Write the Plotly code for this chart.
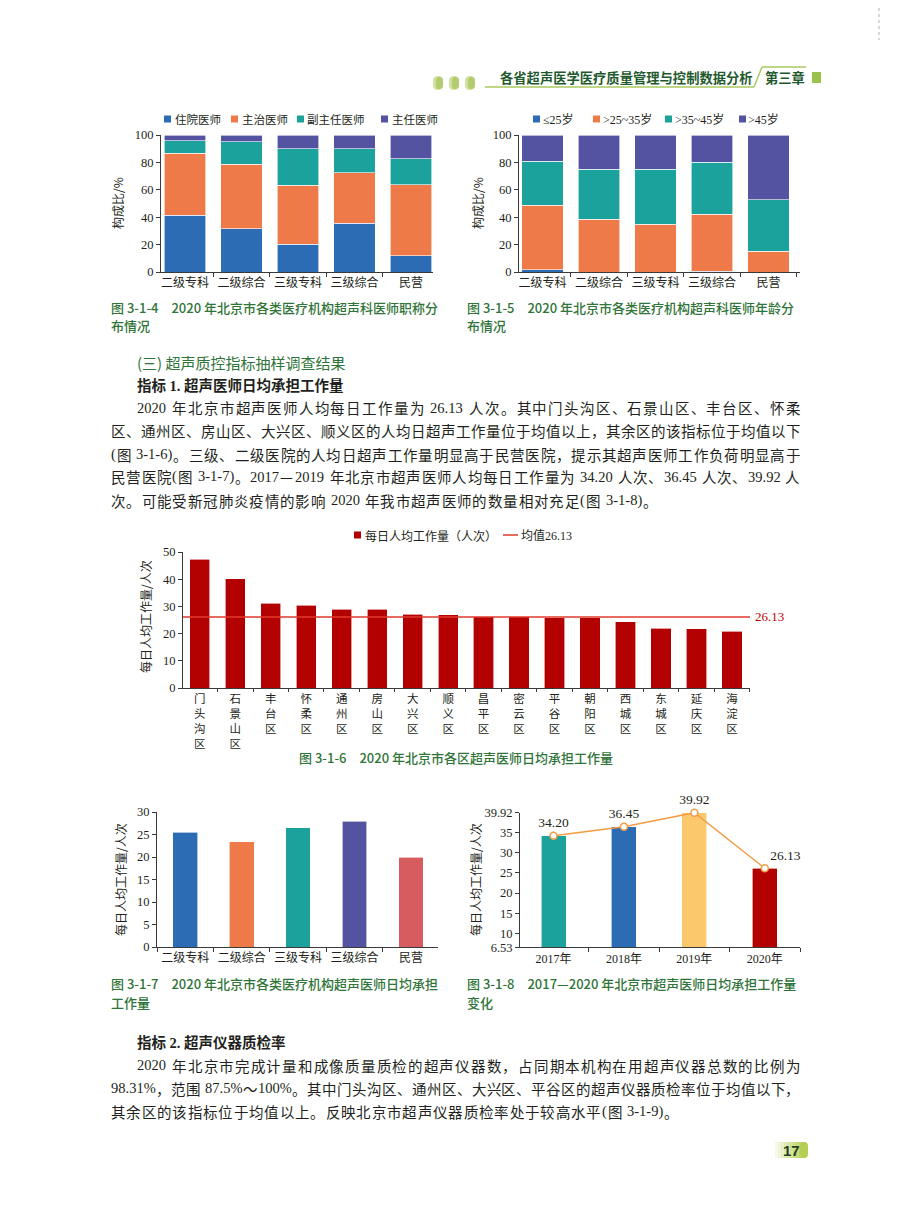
import plotly.graph_objects as go

# The page is drawn 8px in from the top-left corner by the browser's default body margin,
# so the figure is made 8px smaller and every page coordinate is shifted by 8px.
OFF = 8
W, H = 900 - OFF, 1213 - OFF
def X(p): return (p - OFF) / W
def Y(p): return 1 - (p - OFF) / H

SERIF = "Liberation Serif, Noto Sans CJK SC, serif"
CJK = "Noto Sans CJK SC"
AX = "#3a3a3a"
INK = "#231f20"
GREEN = "#2f7438"
HEADGREEN = "#1f5a2e"
LIME = "#a9c95c"
BLUE = "#2b6cb4"
ORANGE = "#ee7a4a"
TEAL = "#1ba29c"
PURPLE = "#5353a2"
PINK = "#d65c60"
YELLOW = "#fbc96c"
DARKRED = "#b30000"
MEANRED = "#e03a2e"

# ---------------- data ----------------
inst_categories = ["二级专科", "二级综合", "三级专科", "三级综合", "民营"]

title_levels = ["住院医师", "主治医师", "副主任医师", "主任医师"]
title_resident = [41.5, 31.7, 20.2, 35.6, 12.0]
title_attending = [45.1, 46.8, 43.0, 36.8, 51.7]
title_associate = [9.3, 16.6, 26.6, 17.4, 19.0]
title_chief = [4.1, 4.9, 10.2, 10.2, 17.3]

age_groups = ["≤25岁", ">25~35岁", ">35~45岁", ">45岁"]
age_le25 = [1.7, 0.0, 0.0, 0.5, 0.0]
age_25_35 = [47.1, 38.5, 34.9, 41.7, 15.1]
age_35_45 = [32.2, 36.6, 40.2, 37.8, 37.8]
age_gt45 = [19.0, 24.9, 24.9, 20.0, 47.1]

districts = ["门头沟区", "石景山区", "丰台区", "怀柔区", "通州区", "房山区", "大兴区", "顺义区",
             "昌平区", "密云区", "平谷区", "朝阳区", "西城区", "东城区", "延庆区", "海淀区"]
district_workload = [47.4, 40.1, 31.1, 30.4, 29.0, 29.0, 27.1, 26.9,
                     26.2, 26.2, 25.9, 25.9, 24.3, 22.0, 21.8, 20.8]
district_mean = 26.13

inst_workload = [25.5, 23.4, 26.5, 27.9, 20.0]

years = ["2017年", "2018年", "2019年", "2020年"]
year_workload = [34.20, 36.45, 39.92, 26.13]
year_ticks = [6.53, 10, 15, 20, 25, 30, 35, 39.92]

# ---------------- figure ----------------
fig = go.Figure()

bar_line = dict(color="rgba(255,255,255,0.75)", width=0.8)

for name, vals, col in zip(title_levels,
                           [title_resident, title_attending, title_associate, title_chief],
                           [BLUE, ORANGE, TEAL, PURPLE]):
    fig.add_trace(go.Bar(x=inst_categories, y=vals, name=name, width=0.74,
                         marker=dict(color=col, line=bar_line), xaxis="x", yaxis="y"))

for name, vals, col in zip(age_groups, [age_le25, age_25_35, age_35_45, age_gt45],
                           [BLUE, ORANGE, TEAL, PURPLE]):
    fig.add_trace(go.Bar(x=inst_categories, y=vals, name=name, width=0.73,
                         marker=dict(color=col, line=bar_line), xaxis="x2", yaxis="y2"))

fig.add_trace(go.Bar(x=["<br>".join(d) for d in districts], y=district_workload,
                     name="每日人均工作量（人次）", width=0.57,
                     marker=dict(color=DARKRED, line=bar_line), xaxis="x3", yaxis="y3"))

fig.add_trace(go.Bar(x=inst_categories, y=inst_workload, width=0.44,
                     marker=dict(color=[BLUE, ORANGE, TEAL, PURPLE, PINK], line=bar_line),
                     xaxis="x4", yaxis="y4"))

fig.add_trace(go.Bar(x=years, y=year_workload, width=0.355,
                     marker=dict(color=[TEAL, BLUE, YELLOW, DARKRED], line=bar_line),
                     xaxis="x5", yaxis="y5"))
fig.add_trace(go.Scatter(x=years, y=year_workload, mode="lines+markers+text",
                         text=[f"{v:.2f}" for v in year_workload],
                         textposition=["top center", "top center", "top center", "top right"],
                         textfont=dict(family=SERIF, size=13.5, color=INK),
                         line=dict(color="#f39c45", width=1.5),
                         marker=dict(size=7, color="white", line=dict(color="#f39c45", width=1.5)),
                         cliponaxis=False, xaxis="x5", yaxis="y5"))


def xcfg(x0, x1, rng, anchor, size=12, ticklen=4):
    return dict(domain=[X(x0), X(x1)], range=rng, type="category", anchor=anchor,
                showline=True, linecolor=AX, linewidth=1, ticks="outside", tickson="boundaries",
                ticklen=ticklen, tickcolor=AX, tickwidth=1, showgrid=False, zeroline=False,
                tickangle=0, automargin=False,
                tickfont=dict(family=SERIF, size=size, color=INK), fixedrange=True)


def ycfg(ytop, ybot, rng, anchor, **kw):
    d = dict(domain=[Y(ybot), Y(ytop)], range=rng, anchor=anchor, showline=True, linecolor=AX,
             linewidth=1, ticks="outside", ticklen=4, tickcolor=AX, tickwidth=1, showgrid=False,
             zeroline=False, automargin=False,
             tickfont=dict(family=SERIF, size=12.5, color=INK), fixedrange=True)
    d.update(kw)
    return d


fig.update_layout(
    width=W, height=H, margin=dict(l=0, r=0, t=0, b=0),
    paper_bgcolor="white", plot_bgcolor="rgba(0,0,0,0)",
    showlegend=False, barmode="stack",
    xaxis=xcfg(161, 433, [-0.425, 4.39], "y"),
    yaxis=ycfg(135, 272, [0, 100], "x", dtick=20),
    xaxis2=xcfg(519, 800, [-0.416, 4.557], "y2"),
    yaxis2=ycfg(135, 272, [0, 100], "x2", dtick=20),
    xaxis3=xcfg(183, 750, [-0.474, 15.51], "y3", size=11.5, ticklen=3),
    yaxis3=ycfg(552, 688, [0, 50], "x3", dtick=10),
    xaxis4=xcfg(157, 438, [-0.5, 4.48], "y4"),
    yaxis4=ycfg(812, 947, [0, 30], "x4", dtick=5),
    xaxis5=xcfg(520, 800, [-0.476, 3.5], "y5"),
    yaxis5=ycfg(812.7, 947.3, [year_ticks[0], year_ticks[-1]], "x5", tickmode="array",
                tickvals=year_ticks, ticktext=[f"{v:g}" for v in year_ticks]),
)

ann = []
shapes = []


def txt(x, y, text, size=12, color=INK, family=CJK, xanchor="left", yanchor="middle", angle=0,
        weight="normal"):
    ann.append(dict(x=X(x), y=Y(y), xref="paper", yref="paper", text=text, showarrow=False,
                    xanchor=xanchor, yanchor=yanchor, textangle=angle, borderpad=0, borderwidth=0,
                    font=dict(family=family, size=size, color=color, weight=weight)))


def rect(x0, y0, x1, y1, color, opacity=1.0):
    shapes.append(dict(type="rect", xref="paper", yref="paper", x0=X(x0), x1=X(x1), y0=Y(y1), y1=Y(y0),
                       fillcolor=color, line=dict(width=0), opacity=opacity, layer="above"))


def line(x0, y0, x1, y1, color, width=1, dash="solid"):
    shapes.append(dict(type="line", xref="paper", yref="paper", x0=X(x0), x1=X(x1), y0=Y(y0), y1=Y(y1),
                       line=dict(color=color, width=width, dash=dash)))


def rrect(x0, y0, x1, y1, r, color):
    p = lambda x, y: f"{X(x):.5f},{Y(y):.5f}"
    path = (f"M {p(x0 + r, y0)} L {p(x1 - r, y0)} Q {p(x1, y0)} {p(x1, y0 + r)} "
            f"L {p(x1, y1 - r)} Q {p(x1, y1)} {p(x1 - r, y1)} L {p(x0 + r, y1)} "
            f"Q {p(x0, y1)} {p(x0, y1 - r)} L {p(x0, y0 + r)} Q {p(x0, y0)} {p(x0 + r, y0)} Z")
    shapes.append(dict(type="path", xref="paper", yref="paper", path=path,
                       fillcolor=color, line=dict(width=0)))


# ---------- page header ----------
line(879, 8, 879, 40, "#b0b0b0", 1, "dot")
for px0 in (433, 449, 465):
    rrect(px0, 76, px0 + 10, 90, 5, "#cfe0a0")
    rrect(px0 + 3, 77, px0 + 10, 89, 3.5, "#b3cd6e")
line(485, 87, 754, 87, LIME, 1.5)
line(754, 87, 762, 67, LIME, 1.5)
line(762, 67, 806, 67, LIME, 1.5)
txt(753, 77, "<b>各省超声医学医疗质量管理与控制数据分析</b>", 13.3, HEADGREEN, xanchor="right")
txt(765, 77, "<b>第三章</b>", 13.3, HEADGREEN)
rect(812, 72, 821, 83, "#9bc24a")

# ---------- legends ----------
leg_y = 119
for sx, tx, name, col in zip([164, 231, 297, 381], [175, 242, 307, 392], title_levels,
                             [BLUE, ORANGE, TEAL, PURPLE]):
    rect(sx, leg_y - 3.5, sx + 7, leg_y + 3.5, col)
    txt(tx, leg_y, name, 11.5)
for sx, tx, name, col in zip([533, 593, 665, 739], [543, 603, 675, 748], age_groups,
                             [BLUE, ORANGE, TEAL, PURPLE]):
    rect(sx, leg_y - 3.5, sx + 7, leg_y + 3.5, col)
    txt(tx, leg_y, name, 12, family=SERIF)
rect(354, 531.5, 361, 538.5, DARKRED)
txt(365, 535, "每日人均工作量（人次）", 12)
line(503, 535, 518, 535, MEANRED, 1.5)
txt(521, 535, "均值26.13", 12, family=SERIF)

# ---------- axis titles ----------
txt(118, 203, "构成比/%", 12, xanchor="center", angle=-90)
txt(478, 203, "构成比/%", 12, xanchor="center", angle=-90)
txt(145, 617, "每日人均工作量/人次", 12, xanchor="center", angle=-90)
txt(120, 880, "每日人均工作量/人次", 12, xanchor="center", angle=-90)
txt(475, 880, "每日人均工作量/人次", 12, xanchor="center", angle=-90)

# mean line of chart 3
shapes.append(dict(type="line", xref="x3 domain", yref="y3", x0=0, x1=1, y0=district_mean, y1=district_mean,
                   line=dict(color=MEANRED, width=1.5), layer="above"))
ann.append(dict(x=1, y=district_mean, xref="x3 domain", yref="y3", text=f"{district_mean:.2f}",
                showarrow=False, xanchor="left", yanchor="middle", xshift=3,
                font=dict(family=SERIF, size=13, color="#c00000")))

# ---------- captions ----------
SP = "\u2003"
CAP = 13
txt(111, 307, f"图 3-1-4{SP}2020 年北京市各类医疗机构超声科医师职称分", CAP, GREEN, weight=500)
txt(111, 326, "布情况", CAP, GREEN, weight=500)
txt(467, 307, f"图 3-1-5{SP}2020 年北京市各类医疗机构超声科医师年龄分", CAP, GREEN, weight=500)
txt(467, 326, "布情况", CAP, GREEN, weight=500)
txt(456, 757, f"图 3-1-6{SP}2020 年北京市各区超声医师日均承担工作量", CAP, GREEN, xanchor="center", weight=500)
txt(111, 983, f"图 3-1-7{SP}2020 年北京市各类医疗机构超声医师日均承担", CAP, GREEN, weight=500)
txt(111, 1002, "工作量", CAP, GREEN, weight=500)
txt(467, 983, f"图 3-1-8{SP}2017—2020 年北京市超声医师日均承担工作量", CAP, GREEN, weight=500)
txt(467, 1002, "变化", CAP, GREEN, weight=500)

# ---------- body text (justified, char by char) ----------
BODY = 14.5
LATIN_W = {".": 0.25, ",": 0.25, " ": 0.25, "-": 0.333, "%": 0.833, "—": 1.0,
           "(": 0.333, ")": 0.333}


def cw(c, size):
    if c.isdigit():
        return 0.5 * size
    if c in LATIN_W:
        return LATIN_W[c] * size
    return size


def tokens(s):
    toks, cur = [], ""
    for c in s:
        if c.isascii() and c != " ":
            cur += c
        else:
            if cur:
                toks.append(cur)
                cur = ""
            toks.append(c)
    if cur:
        toks.append(cur)
    return toks


def body_line(x0, y, s, justify=True, x1=800, size=BODY, extra=None):
    toks = tokens(s)
    widths = [sum(cw(c, size) for c in t) for t in toks]
    nat = sum(widths)
    if extra is None:
        extra = (x1 - x0 - nat) / (len(toks) - 1) if justify and len(toks) > 1 else 0
    x = x0
    for t, w in zip(toks, widths):
        if t != " ":
            txt(x, y, t, size, INK, SERIF if t.isascii() else CJK)
        x += w + extra
    return extra


def paragraph(lines, y0):
    extras = []
    for i, (x0, s, j) in enumerate(lines):
        if j:
            extras.append(body_line(x0, y0 + 23 * i, s, True))
        else:
            body_line(x0, y0 + 23 * i, s, False, extra=sum(extras) / len(extras))


txt(137, 362, "(三) 超声质控指标抽样调查结果", 15, GREEN)
txt(137, 385, "<b>指标 1. 超声医师日均承担工作量</b>", 14.5, INK, SERIF)
para1 = [
    (137, "2020 年北京市超声医师人均每日工作量为 26.13 人次。其中门头沟区、石景山区、丰台区、怀柔", True),
    (111, "区、通州区、房山区、大兴区、顺义区的人均日超声工作量位于均值以上，其余区的该指标位于均值以下", True),
    (111, "(图 3-1-6)。三级、二级医院的人均日超声工作量明显高于民营医院，提示其超声医师工作负荷明显高于", True),
    (111, "民营医院(图 3-1-7)。2017—2019 年北京市超声医师人均每日工作量为 34.20 人次、36.45 人次、39.92 人", True),
    (111, "次。可能受新冠肺炎疫情的影响 2020 年我市超声医师的数量相对充足(图 3-1-8)。", False),
]
paragraph(para1, 408)

txt(137, 1042, "<b>指标 2. 超声仪器质检率</b>", 14.5, INK, SERIF)
para2 = [
    (137, "2020 年北京市完成计量和成像质量质检的超声仪器数，占同期本机构在用超声仪器总数的比例为", True),
    (111, "98.31%，范围 87.5%～100%。其中门头沟区、通州区、大兴区、平谷区的超声仪器质检率位于均值以下，", True),
    (111, "其余区的该指标位于均值以上。反映北京市超声仪器质检率处于较高水平(图 3-1-9)。", False),
]
paragraph(para2, 1065)

# ---------- page number ----------
for k in range(10):
    rect(775 + k * 3, 1142, 778 + k * 3 + 0.5, 1158, "#b5cf55", opacity=0.12 + 0.09 * k)
rrect(800, 1142, 808, 1158, 4, "#b5cf55")
txt(791, 1150, "<b>17</b>", 15, "#24421a", "Liberation Sans, Arial", xanchor="center")

fig.update_layout(annotations=ann, shapes=shapes)
fig.write_html("out.html")
